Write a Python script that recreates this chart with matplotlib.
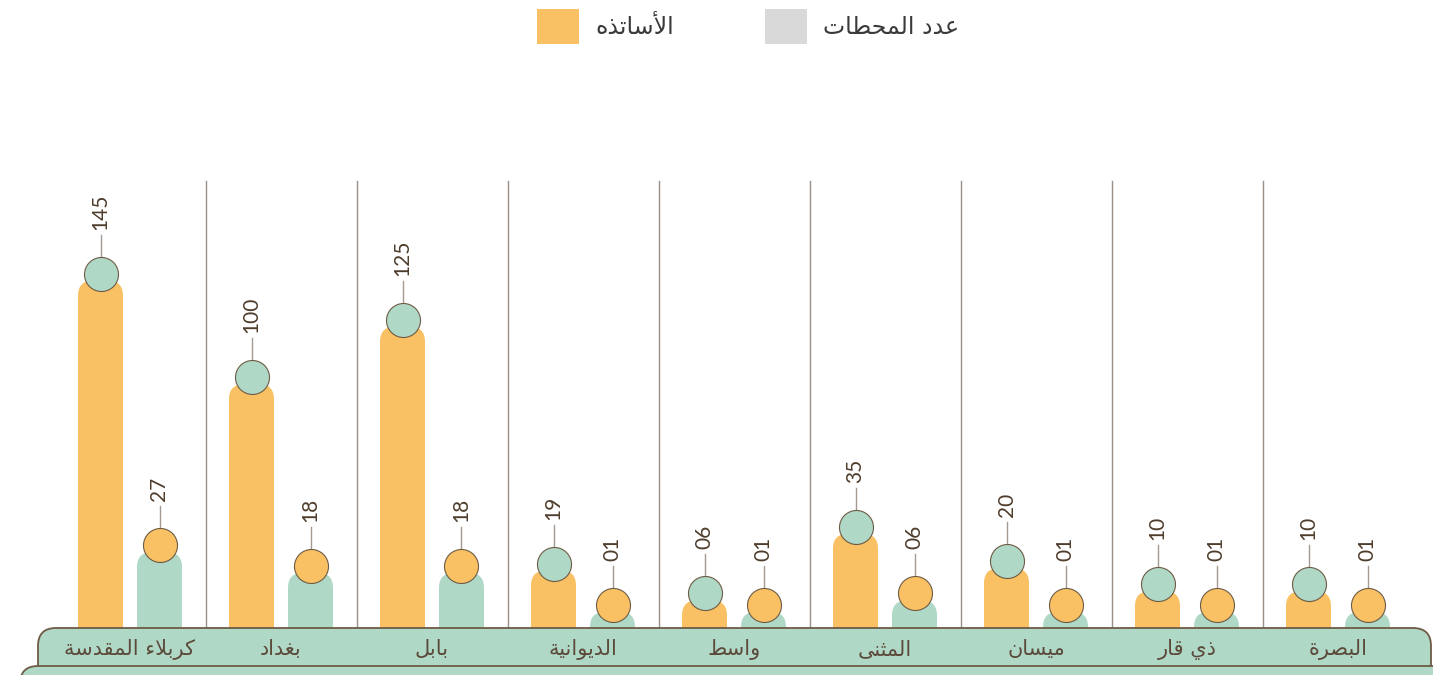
import matplotlib
matplotlib.use("Agg")
import matplotlib.pyplot as plt
from matplotlib.patches import FancyBboxPatch, Patch

# data
cities = ["كربلاء المقدسة", "بغداد", "بابل", "الديوانية", "واسط",
          "المثنى", "ميسان", "ذي قار", "البصرة"]
teachers = [145, 100, 125, 19, 6, 35, 20, 10, 10]
stations = [27, 18, 18, 1, 1, 6, 1, 1, 1]
legend_labels = ["الأساتذه", "عدد المحطات"]

ORANGE = "#f9c164"
GREEN = "#b0d8c7"
GREY = "#d9d9d9"
EDGE = "#6e5b45"
SEP = "#9b9089"
STEM = "#a39a93"
TXT = "#4f3d2c"

# matplotlib has no arabic shaping, so pick presentation forms by hand
FORMS = {
    "ء": (0xFE80, None, None, None),
    "أ": (0xFE83, 0xFE84, None, None),
    "ا": (0xFE8D, 0xFE8E, None, None),
    "ب": (0xFE8F, 0xFE90, 0xFE91, 0xFE92),
    "ة": (0xFE93, 0xFE94, None, None),
    "ت": (0xFE95, 0xFE96, 0xFE97, 0xFE98),
    "ث": (0xFE99, 0xFE9A, 0xFE9B, 0xFE9C),
    "ح": (0xFEA1, 0xFEA2, 0xFEA3, 0xFEA4),
    "د": (0xFEA9, 0xFEAA, None, None),
    "ذ": (0xFEAB, 0xFEAC, None, None),
    "ر": (0xFEAD, 0xFEAE, None, None),
    "س": (0xFEB1, 0xFEB2, 0xFEB3, 0xFEB4),
    "ص": (0xFEB9, 0xFEBA, 0xFEBB, 0xFEBC),
    "ط": (0xFEC1, 0xFEC2, 0xFEC3, 0xFEC4),
    "ع": (0xFEC9, 0xFECA, 0xFECB, 0xFECC),
    "غ": (0xFECD, 0xFECE, 0xFECF, 0xFED0),
    "ق": (0xFED5, 0xFED6, 0xFED7, 0xFED8),
    "ك": (0xFED9, 0xFEDA, 0xFEDB, 0xFEDC),
    "ل": (0xFEDD, 0xFEDE, 0xFEDF, 0xFEE0),
    "م": (0xFEE1, 0xFEE2, 0xFEE3, 0xFEE4),
    "ن": (0xFEE5, 0xFEE6, 0xFEE7, 0xFEE8),
    "ه": (0xFEE9, 0xFEEA, 0xFEEB, 0xFEEC),
    "و": (0xFEED, 0xFEEE, None, None),
    "ى": (0xFEEF, 0xFEF0, None, None),
    "ي": (0xFEF1, 0xFEF2, 0xFEF3, 0xFEF4),
}
LAM_ALEF = {"ا": (0xFEFB, 0xFEFC), "أ": (0xFEF7, 0xFEF8)}


def joins_next(c):
    return c in FORMS and FORMS[c][2] is not None


def joins_prev(c):
    return c in FORMS and FORMS[c][1] is not None


def shape(text):
    out = []
    i = 0
    n = len(text)
    while i < n:
        c = text[i]
        if c not in FORMS:
            out.append(c)
            i += 1
            continue
        p = i > 0 and joins_next(text[i - 1])
        if c == "ل" and i + 1 < n and text[i + 1] in LAM_ALEF:
            iso, fin = LAM_ALEF[text[i + 1]]
            out.append(chr(fin if p else iso))
            i += 2
            continue
        q = joins_next(c) and i + 1 < n and joins_prev(text[i + 1])
        f = FORMS[c]
        if p and q:
            g = f[3]
        elif p:
            g = f[1]
        elif q:
            g = f[2]
        else:
            g = f[0]
        out.append(chr(g))
        i += 1
    return "".join(reversed(out))


plt.rcParams["font.family"] = ["DejaVu Sans"]

fig = plt.figure(figsize=(14.33, 6.75), dpi=100)
ax = fig.add_axes([0, 0, 1, 1])
ax.set_axis_off()

# pixel scale: 151 px per group, 2.3 px per unit
PX_X = 151.0
PX_Y = 2.3
BASE = -6.0
ax.set_xlim(-130 / PX_X, (1433 - 130) / PX_X)
ax.set_ylim(BASE - 47 / PX_Y, BASE + 628 / PX_Y)
aspect = PX_X / PX_Y

x = list(range(len(cities)))
off = 29.5 / PX_X
w = 45 / PX_X


def rounded_bars(bars, color):
    for b in bars:
        x0, y0 = b.get_x(), b.get_y()
        bw, bh = b.get_width(), b.get_height()
        b.remove()
        ax.add_patch(FancyBboxPatch((x0, y0), bw, bh,
                                    boxstyle="round,pad=0,rounding_size=%f" % (15 / PX_X),
                                    mutation_aspect=aspect, facecolor=color,
                                    edgecolor="none", zorder=2))


bottom = BASE - 20
b1 = ax.bar([i - off for i in x], [v - bottom for v in teachers], w, bottom=bottom)
b2 = ax.bar([i + off for i in x], [v - bottom for v in stations], w, bottom=bottom)
rounded_bars(b1, ORANGE)
rounded_bars(b2, GREEN)

# circles, stems and value labels
dc = 7 / PX_Y
for xs, vals, cc in [([i - off for i in x], teachers, GREEN),
                     ([i + off for i in x], stations, ORANGE)]:
    cy = [v + dc for v in vals]
    ax.scatter(xs, cy, s=600, facecolor=cc, edgecolor=EDGE, linewidth=0.8, zorder=4)
    for xi, yi, v in zip(xs, cy, vals):
        y0 = yi + 17 / PX_Y
        y1 = yi + 39 / PX_Y
        ax.plot([xi, xi], [y0, y1], color=STEM, lw=1.0, zorder=3)
        ax.text(xi, y1 + 5 / PX_Y, "%02d" % v, rotation=90, ha="center", va="bottom",
                fontsize=15, family=["Lato", "DejaVu Sans"], color=TXT)

# group separators
for i in x[:-1]:
    ax.plot([i + 0.5, i + 0.5], [BASE, BASE + 447 / PX_Y], color=SEP, lw=1.0, zorder=1)

# bottom bands
band = FancyBboxPatch((-92 / PX_X, BASE - 100), (1431 - 38) / PX_X, 100,
                      boxstyle="round,pad=0,rounding_size=%f" % (18 / PX_X),
                      mutation_aspect=aspect, facecolor=GREEN, edgecolor=EDGE,
                      linewidth=1.3, zorder=5)
ax.add_patch(band)
low_top = BASE - 38 / PX_Y
band2 = FancyBboxPatch((-110 / PX_X, low_top - 100), 20.0, 100,
                       boxstyle="round,pad=0,rounding_size=%f" % (18 / PX_X),
                       mutation_aspect=aspect, facecolor=GREEN, edgecolor=EDGE,
                       linewidth=1.3, zorder=6)
ax.add_patch(band2)

for i, name in zip(x, cities):
    ax.text(i, BASE - 21 / PX_Y, shape(name), ha="center", va="center",
            fontsize=15, color="#5b4a3a", zorder=8)

# legend
handles = [Patch(facecolor=ORANGE, edgecolor="none"), Patch(facecolor=GREY, edgecolor="none")]
fig.legend(handles, [shape(t) for t in legend_labels], loc="upper center",
           bbox_to_anchor=(748 / 1433, 1 - 9 / 675), ncol=2, frameon=False,
           fontsize=17, handlelength=1.78, handleheight=1.9, handletextpad=0.68,
           columnspacing=3.85, borderpad=0, borderaxespad=0, labelcolor="#3a3a3a")

fig.savefig("out.png", dpi=100)
